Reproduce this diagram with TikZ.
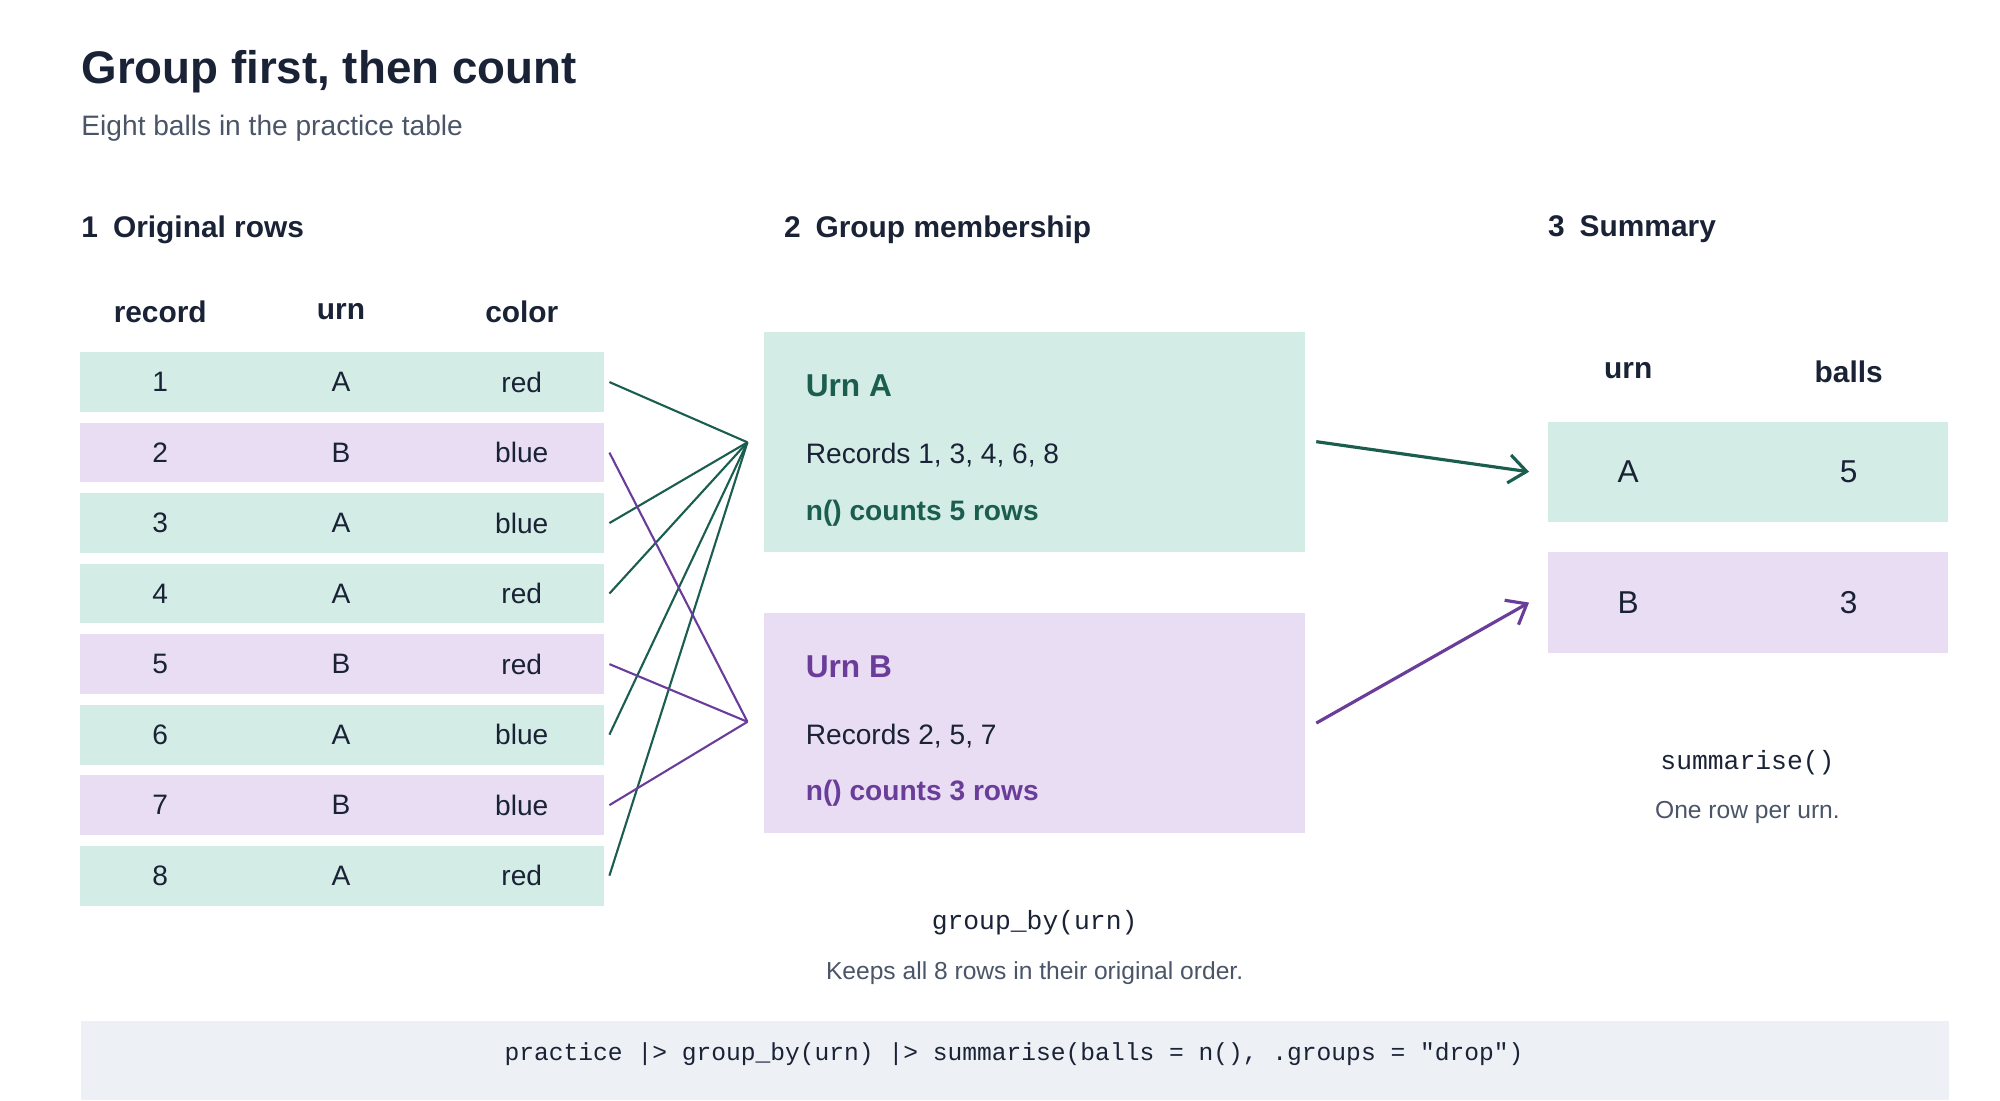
\documentclass[tikz,border=0pt]{standalone}
\usepackage{fontspec}
\setmainfont{Liberation Sans}
\setmonofont{Liberation Mono}
\usepackage{tikz}
\usetikzlibrary{positioning}
\usetikzlibrary{calc}
\usetikzlibrary{arrows.meta}

\definecolor{ink}{HTML}{1A2236}
\definecolor{muted}{HTML}{4A5568}
\definecolor{fillA}{HTML}{D4ECE6}
\definecolor{fillB}{HTML}{E9DDF3}
\definecolor{lineA}{HTML}{1B5E50}
\definecolor{lineB}{HTML}{6A3D9A}
\definecolor{codebg}{HTML}{EDF0F5}

\tikzset{
	head/.style={font=\fontsize{8.5}{10}\selectfont\bfseries, text=ink},
	cell/.style={font=\fontsize{8}{10}\selectfont, text=ink},
	rowbox/.style={minimum width=149pt, minimum height=17pt, inner sep=0pt},
	linkA/.style={draw=lineA, line width=0.6pt},
	linkB/.style={draw=lineB, line width=0.6pt}
}

\begin{document}
\begin{tikzpicture}[x=0.01282cm, y=-0.01282cm]

	\useasboundingbox (0,0) rectangle (1560,858);

	\node[anchor=base west, font=\fontsize{13}{15}\selectfont\bfseries, text=ink, inner sep=0pt]
		(title) at (63,65) {Group first, then count};
	\node[anchor=west, font=\fontsize{8}{10}\selectfont, text=muted, inner sep=0pt]
		(subtitle) at (63,100) {Eight balls in the practice table};

	\node[head, anchor=west, inner sep=0pt] (secOne) at (63,179) {1\enspace Original rows};
	\node[head, anchor=west, inner sep=0pt] (secTwo) at (611,179) {2\enspace Group membership};
	\node[head, anchor=west, inner sep=0pt] (secThree) at (1207,179) {3\enspace Summary};

	\node[head] (hRecord) at (125,243) {record};
	\node[head] (hUrn) at (266,243) {urn};
	\node[head] (hColor) at (407,243) {color};

	% original rows
	\foreach \i/\u/\c in {1/A/red,2/B/blue,3/A/blue,4/A/red,5/B/red,6/A/blue,7/B/blue,8/A/red}{
		\node[rowbox, fill=fill\u] (row\i) at (266.5,{298+55*(\i-1)}) {};
		\node[cell] at (125,{298+55*(\i-1)}) {\i};
		\node[cell] at (266,{298+55*(\i-1)}) {\u};
		\node[cell] at (407,{298+55*(\i-1)}) {\c};
		\coordinate (out\i) at ($(row\i.east)+(4,0)$);
	}

	% group boxes
	\node[fill=fillA, minimum width=154pt, minimum height=62.5pt, inner sep=0pt] (urnA) at (807,344.5) {};
	\node[fill=fillB, minimum width=154pt, minimum height=62.5pt, inner sep=0pt] (urnB) at (807,564) {};

	\node[anchor=west, font=\fontsize{9}{11}\selectfont\bfseries, text=lineA, inner sep=0pt] at (628,301) {Urn A};
	\node[cell, anchor=west, inner sep=0pt] at (628,355) {Records 1, 3, 4, 6, 8};
	\node[anchor=west, font=\fontsize{8}{10}\selectfont\bfseries, text=lineA, inner sep=0pt] at (628,400) {n() counts 5 rows};

	\node[anchor=west, font=\fontsize{9}{11}\selectfont\bfseries, text=lineB, inner sep=0pt] at (628,520) {Urn B};
	\node[cell, anchor=west, inner sep=0pt] at (628,574) {Records 2, 5, 7};
	\node[anchor=west, font=\fontsize{8}{10}\selectfont\bfseries, text=lineB, inner sep=0pt] at (628,619) {n() counts 3 rows};

	\coordinate (inA) at (583,345);
	\coordinate (inB) at (583,563);

	\foreach \i in {1,3,4,6,8}{
		\draw[linkA] (out\i) -- (inA);
	}
	\foreach \i in {2,5,7}{
		\draw[linkB] (out\i) -- (inB);
	}

	\node[font=\fontsize{7.5}{9}\selectfont\ttfamily, text=ink] (groupCode) at (807,720) {group\_by(urn)};
	\node[font=\fontsize{7}{9}\selectfont, text=muted] (groupNote) at (807,759) {Keeps all 8 rows in their original order.};

	% summary
	\node[head] (sUrn) at (1270,289) {urn};
	\node[head] (sBalls) at (1442,290) {balls};
	\node[fill=fillA, minimum width=114pt, minimum height=28.5pt, inner sep=0pt] (sumA) at (1363.5,368) {};
	\node[fill=fillB, minimum width=114pt, minimum height=28.5pt, inner sep=0pt] (sumB) at (1363.5,470) {};
	\node[font=\fontsize{9}{11}\selectfont, text=ink] at (1270,368) {A};
	\node[font=\fontsize{9}{11}\selectfont, text=ink] at (1442,368) {5};
	\node[font=\fontsize{9}{11}\selectfont, text=ink] at (1270,470) {B};
	\node[font=\fontsize{9}{11}\selectfont, text=ink] at (1442,470) {3};

	\coordinate (fromA) at ($(urnA.east)+(8,0)$);
	\coordinate (fromB) at ($(urnB.east)+(8,0)$);
	\coordinate (toA) at ($(sumA.west)+(-14,0)$);
	\coordinate (toB) at ($(sumB.west)+(-14,0)$);
	\draw[-{Straight Barb[length=5pt,width=8pt]}, draw=lineA, line width=0.9pt] (fromA) -- (toA);
	\draw[-{Straight Barb[length=5pt,width=8pt]}, draw=lineB, line width=0.9pt] (fromB) -- (toB);

	\node[font=\fontsize{7.5}{9}\selectfont\ttfamily, text=ink] (sumCode) at (1363,595) {summarise()};
	\node[font=\fontsize{7}{9}\selectfont, text=muted] (sumNote) at (1363,634) {One row per urn.};

	% code bar
	\fill[codebg] (63,796) rectangle (1520,858);
	\node[font=\fontsize{7}{9}\selectfont\ttfamily, text=ink] (pipeline) at (791,822)
		{practice |> group\_by(urn) |> summarise(balls = n(), .groups = "drop")};

\end{tikzpicture}
\end{document}
